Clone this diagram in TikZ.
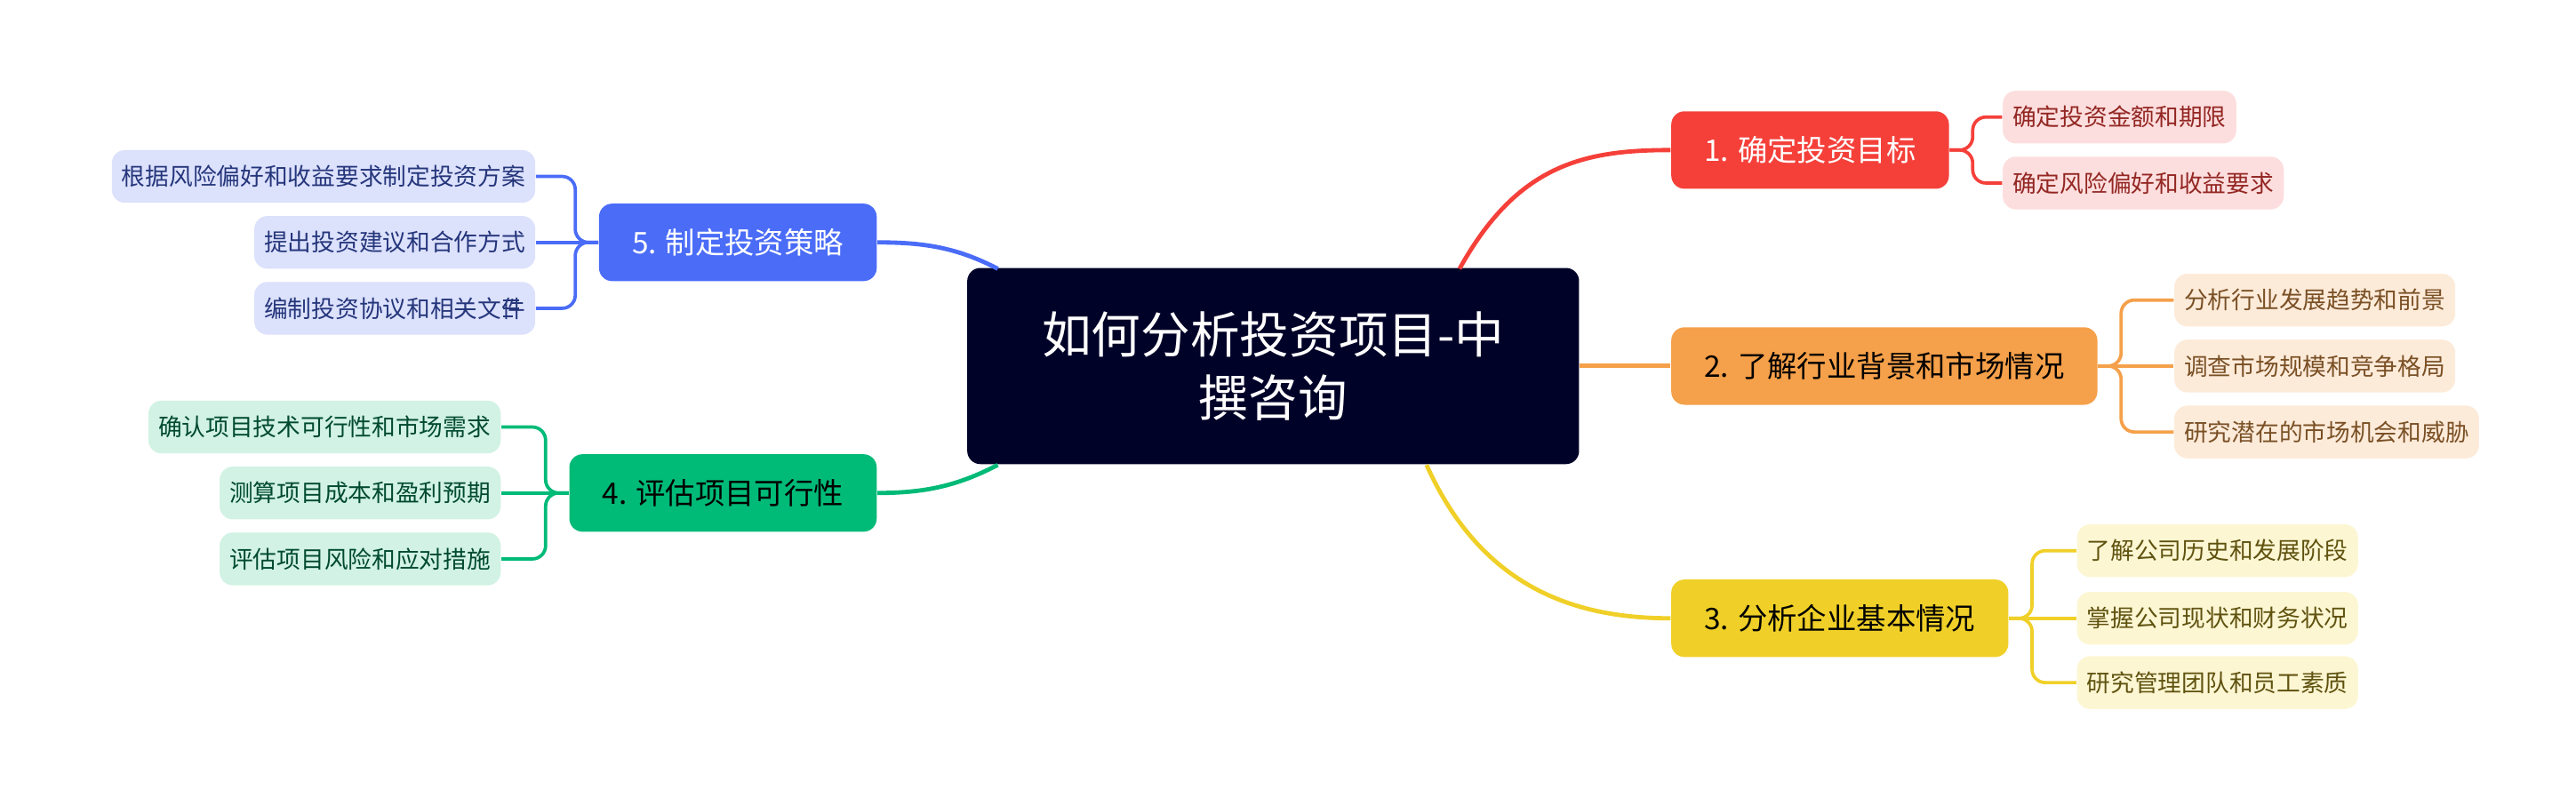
\documentclass[tikz,border=0pt]{standalone}
\usepackage{fontspec}
\setmainfont{Noto Sans CJK SC}
\definecolor{cnavy}{RGB}{0,2,40}
\definecolor{cred}{RGB}{245,64,58}
\definecolor{cora}{RGB}{245,160,74}
\definecolor{cyel}{RGB}{240,208,40}
\definecolor{cgrn}{RGB}{0,186,120}
\definecolor{cblu}{RGB}{74,108,247}
\definecolor{lred}{RGB}{253,222,222}
\definecolor{lora}{RGB}{253,235,218}
\definecolor{lyel}{RGB}{253,246,211}
\definecolor{lgrn}{RGB}{209,242,228}
\definecolor{lblu}{RGB}{220,225,252}
\begin{document}
\begin{tikzpicture}[x=0.5pt,y=-0.5pt,
  root/.style={fill=cnavy,text=white,rounded corners=4pt,minimum width=185.5pt,minimum height=59.5pt,font=\fontsize{15}{19}\selectfont,align=center},
  branch/.style={fill=#1,rounded corners=4pt,minimum height=23.5pt,inner xsep=10pt,font=\fontsize{9}{11}\selectfont},
  leaf/.style={fill=#1,rounded corners=4pt,minimum height=16pt,inner xsep=3pt,font=\fontsize{7.2}{9}\selectfont},
  link/.style={line width=1.3pt,draw=#1},
  brace/.style={line width=1pt,draw=#1,rounded corners=4pt}]
\useasboundingbox (0,0) rectangle (1562,484);

% root
\node[root] (root) at (772,222) {如何分析投资项目-中\\撰咨询};

% branches
\node[branch=cred,text=white,anchor=west] (b1) at (1013,91) {1. 确定投资目标};
\node[branch=cora,anchor=west] (b2) at (1013,222) {2. 了解行业背景和市场情况};
\node[branch=cyel,anchor=west] (b3) at (1013,375) {3. 分析企业基本情况};
\node[branch=cgrn,anchor=east] (b4) at (532,299) {4. 评估项目可行性};
\node[branch=cblu,text=white,anchor=east] (b5) at (532,147) {5. 制定投资策略};

% root to branches
\coordinate (r1) at (885,163);
\coordinate (r3) at (865,282);
\coordinate (r4) at (605,282);
\coordinate (r5) at (605,163);
\draw[link=cred] (r1) .. controls (920,100) and (960,91) .. (b1.west);
\draw[link=cora] (root.east) -- (b2.west);
\draw[link=cyel] (r3) .. controls (900,360) and (960,375) .. (b3.west);
\draw[link=cgrn] (r4) .. controls (580,295) and (560,299) .. (b4.east);
\draw[link=cblu] (r5) .. controls (580,150) and (560,147) .. (b5.east);

% leaves
\begin{scope}[every node/.style={anchor=west}]
\node[leaf=lred,text=cred!60!black] (l11) at (1214,71) {确定投资金额和期限};
\node[leaf=lred,text=cred!60!black] (l12) at (1214,111) {确定风险偏好和收益要求};
\node[leaf=lora,text=cora!50!black] (l21) at (1318,182) {分析行业发展趋势和前景};
\node[leaf=lora,text=cora!50!black] (l22) at (1318,222) {调查市场规模和竞争格局};
\node[leaf=lora,text=cora!50!black] (l23) at (1318,262) {研究潜在的市场机会和威胁};
\node[leaf=lyel,text=cyel!40!black] (l31) at (1259,334) {了解公司历史和发展阶段};
\node[leaf=lyel,text=cyel!40!black] (l32) at (1259,375) {掌握公司现状和财务状况};
\node[leaf=lyel,text=cyel!40!black] (l33) at (1259,414) {研究管理团队和员工素质};
\end{scope}
\begin{scope}[every node/.style={anchor=east}]
\node[leaf=lgrn,text=cgrn!40!black] (l41) at (304,259) {确认项目技术可行性和市场需求};
\node[leaf=lgrn,text=cgrn!40!black] (l42) at (304,299) {测算项目成本和盈利预期};
\node[leaf=lgrn,text=cgrn!40!black] (l43) at (304,339) {评估项目风险和应对措施};
\node[leaf=lblu,text=cblu!50!black] (l51) at (325,107) {根据风险偏好和收益要求制定投资方案};
\node[leaf=lblu,text=cblu!50!black] (l52) at (325,147) {提出投资建议和合作方式};
\node[leaf=lblu,text=cblu!50!black] (l53) at (325,187) {编制投资协议和相关文件\hspace{22pt}};
\end{scope}
% note icon
\draw[cblu!50!black,line width=0.5pt] (305,182) -- (315,182) (305,187) -- (315,187) (305,192) -- (311,192);

% braces
\draw[brace=cred] (b1.east) -- ++(14,0) |- (l11.west);
\draw[brace=cred] (b1.east) -- ++(14,0) |- (l12.west);
\draw[brace=cora] (b2.east) -- ++(14,0) |- (l21.west);
\draw[brace=cora] (b2.east) -- (l22.west);
\draw[brace=cora] (b2.east) -- ++(14,0) |- (l23.west);
\draw[brace=cyel] (b3.east) -- ++(14,0) |- (l31.west);
\draw[brace=cyel] (b3.east) -- (l32.west);
\draw[brace=cyel] (b3.east) -- ++(14,0) |- (l33.west);
\draw[brace=cgrn] (b4.west) -- ++(-14,0) |- (l41.east);
\draw[brace=cgrn] (b4.west) -- (l42.east);
\draw[brace=cgrn] (b4.west) -- ++(-14,0) |- (l43.east);
\draw[brace=cblu] (b5.west) -- ++(-14,0) |- (l51.east);
\draw[brace=cblu] (b5.west) -- (l52.east);
\draw[brace=cblu] (b5.west) -- ++(-14,0) |- (l53.east);
\end{tikzpicture}
\end{document}
